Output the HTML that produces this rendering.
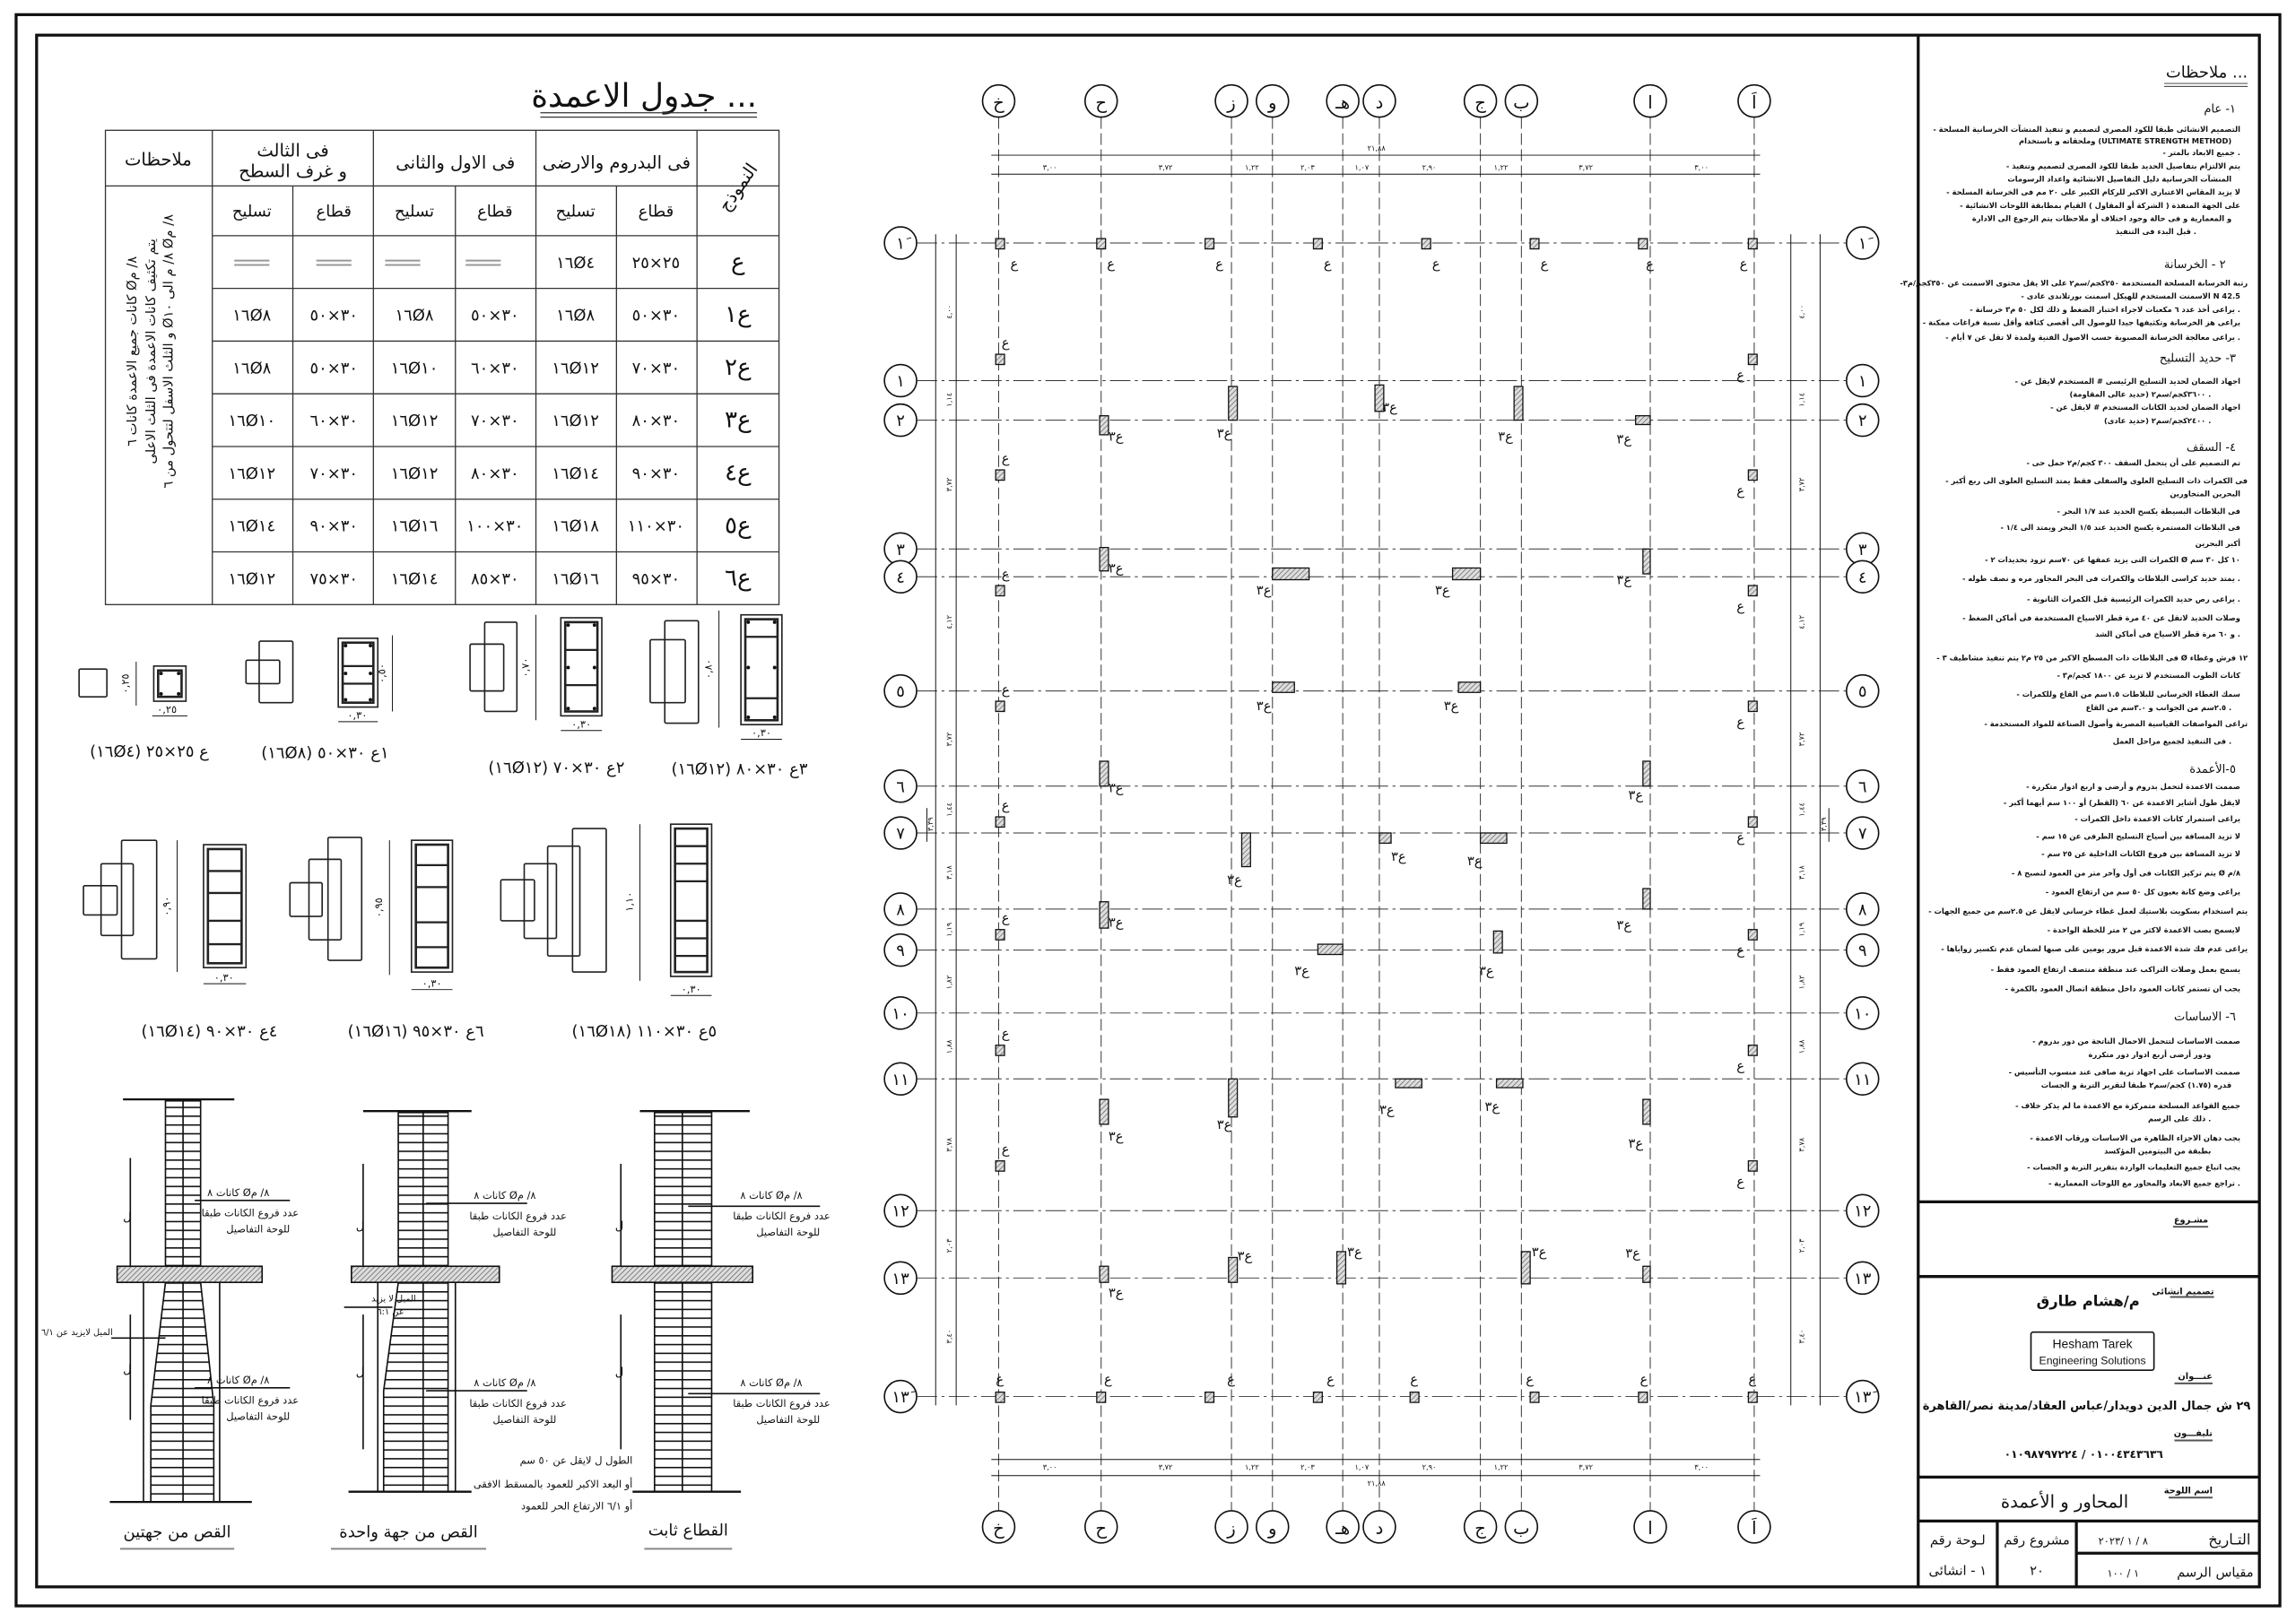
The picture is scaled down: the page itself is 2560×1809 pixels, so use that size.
<!DOCTYPE html>
<html><head><meta charset="utf-8"><style>
html,body{margin:0;padding:0;background:#fff}
svg{display:block}
text{font-family:"DejaVu Sans","Liberation Sans",sans-serif;fill:#111}
.n{font-size:5.1px;font-weight:bold;text-anchor:end}
.h{font-size:9px;text-anchor:end}
.t{font-size:11px;text-anchor:middle}
.o{unicode-bidi:bidi-override;direction:ltr}
.g{fill:none;stroke:#333;stroke-width:0.6}
.b{fill:#fff;stroke:#111;stroke-width:1}
.c{fill:url(#hat);stroke:#111;stroke-width:0.8}
.d{font-size:5px;text-anchor:middle}
.dl{stroke:#111;stroke-width:0.6}
</style></head><body>
<svg width="2560" height="1809" viewBox="0 0 1568 1108" xmlns="http://www.w3.org/2000/svg">
<defs>
<pattern id="hat" width="2.5" height="2.5" patternUnits="userSpaceOnUse" patternTransform="rotate(45)"><rect width="2.5" height="2.5" fill="#ddd"/><line x1="0" y1="0" x2="0" y2="2.5" stroke="#555" stroke-width="0.8"/></pattern>
<pattern id="st" width="10" height="6" patternUnits="userSpaceOnUse"><rect width="10" height="6" fill="#fff"/><line x1="0" y1="0.5" x2="10" y2="0.5" stroke="#111" stroke-width="1"/></pattern>
</defs>
<rect width="1568" height="1108" fill="#fff"/>
<rect x="11" y="10" width="1546" height="1087" fill="none" stroke="#111" stroke-width="2"/>
<rect x="25" y="24" width="1518" height="1060" fill="none" stroke="#111" stroke-width="2"/>
<line x1="1310" y1="24" x2="1310" y2="1084" stroke="#111" stroke-width="2"/>
<g stroke="#111" stroke-width="2">
<line x1="1310" y1="821" x2="1543" y2="821"/>
<line x1="1310" y1="872" x2="1543" y2="872"/>
<line x1="1310" y1="1009" x2="1543" y2="1009"/>
<line x1="1310" y1="1039" x2="1543" y2="1039"/>
<line x1="1418" y1="1061" x2="1543" y2="1061"/>
<line x1="1364" y1="1039" x2="1364" y2="1084"/>
<line x1="1418" y1="1039" x2="1418" y2="1084"/>
</g>

<!-- Column table -->
<text x="517" y="73" style="font-size:22px;text-anchor:end">جدول الاعمدة ...</text>
<line x1="369" y1="77" x2="517" y2="77" stroke="#333" stroke-width="0.8"/>
<line x1="369" y1="80" x2="517" y2="80" stroke="#333" stroke-width="0.8"/>
<g stroke="#333" stroke-width="0.8" fill="none">
<rect x="72" y="89" width="460" height="324"/>
<line x1="72" y1="127" x2="532" y2="127"/>
<line x1="145" y1="161" x2="532" y2="161"/>
<line x1="145" y1="197" x2="532" y2="197"/><line x1="145" y1="233" x2="532" y2="233"/>
<line x1="145" y1="269" x2="532" y2="269"/><line x1="145" y1="305" x2="532" y2="305"/>
<line x1="145" y1="341" x2="532" y2="341"/><line x1="145" y1="377" x2="532" y2="377"/>
<line x1="145" y1="89" x2="145" y2="413"/><line x1="255" y1="89" x2="255" y2="413"/>
<line x1="366" y1="89" x2="366" y2="413"/><line x1="476" y1="89" x2="476" y2="413"/>
<line x1="200" y1="127" x2="200" y2="413"/><line x1="311" y1="127" x2="311" y2="413"/>
<line x1="421" y1="127" x2="421" y2="413"/>
</g>
<text x="108" y="113" class="t" style="font-size:12px">ملاحظات</text>
<text x="200" y="107" class="t" style="font-size:12px">فى الثالث</text>
<text x="200" y="121" class="t" style="font-size:12px">و غرف السطح</text>
<text x="311" y="115" class="t" style="font-size:12px">فى الاول والثانى</text>
<text x="421" y="115" class="t" style="font-size:12px">فى البدروم والارضى</text>
<text x="504" y="132" class="t" style="font-size:12px" transform="rotate(-55 504 128)">النموذج</text>
<text x="172" y="148" class="t">تسليح</text><text x="228" y="148" class="t">قطاع</text>
<text x="283" y="148" class="t">تسليح</text><text x="338" y="148" class="t">قطاع</text>
<text x="393" y="148" class="t">تسليح</text><text x="448" y="148" class="t">قطاع</text>
<g stroke="#999" stroke-width="1.2">
<line x1="160" y1="178" x2="184" y2="178"/><line x1="160" y1="181" x2="184" y2="181"/>
<line x1="216" y1="178" x2="240" y2="178"/><line x1="216" y1="181" x2="240" y2="181"/>
<line x1="263" y1="178" x2="287" y2="178"/><line x1="263" y1="181" x2="287" y2="181"/>
<line x1="318" y1="178" x2="342" y2="178"/><line x1="318" y1="181" x2="342" y2="181"/>
</g>
<g class="o">
<text x="393" y="183" class="t o">١٦Ø٤</text><text x="448" y="183" class="t o">٢٥×٢٥</text>
<text x="172" y="219" class="t o">١٦Ø٨</text><text x="228" y="219" class="t o">٥٠×٣٠</text><text x="283" y="219" class="t o">١٦Ø٨</text><text x="338" y="219" class="t o">٥٠×٣٠</text><text x="393" y="219" class="t o">١٦Ø٨</text><text x="448" y="219" class="t o">٥٠×٣٠</text>
<text x="172" y="255" class="t o">١٦Ø٨</text><text x="228" y="255" class="t o">٥٠×٣٠</text><text x="283" y="255" class="t o">١٦Ø١٠</text><text x="338" y="255" class="t o">٦٠×٣٠</text><text x="393" y="255" class="t o">١٦Ø١٢</text><text x="448" y="255" class="t o">٧٠×٣٠</text>
<text x="172" y="291" class="t o">١٦Ø١٠</text><text x="228" y="291" class="t o">٦٠×٣٠</text><text x="283" y="291" class="t o">١٦Ø١٢</text><text x="338" y="291" class="t o">٧٠×٣٠</text><text x="393" y="291" class="t o">١٦Ø١٢</text><text x="448" y="291" class="t o">٨٠×٣٠</text>
<text x="172" y="327" class="t o">١٦Ø١٢</text><text x="228" y="327" class="t o">٧٠×٣٠</text><text x="283" y="327" class="t o">١٦Ø١٢</text><text x="338" y="327" class="t o">٨٠×٣٠</text><text x="393" y="327" class="t o">١٦Ø١٤</text><text x="448" y="327" class="t o">٩٠×٣٠</text>
<text x="172" y="363" class="t o">١٦Ø١٤</text><text x="228" y="363" class="t o">٩٠×٣٠</text><text x="283" y="363" class="t o">١٦Ø١٦</text><text x="338" y="363" class="t o">١٠٠×٣٠</text><text x="393" y="363" class="t o">١٦Ø١٨</text><text x="448" y="363" class="t o">١١٠×٣٠</text>
<text x="172" y="399" class="t o">١٦Ø١٢</text><text x="228" y="399" class="t o">٧٥×٣٠</text><text x="283" y="399" class="t o">١٦Ø١٤</text><text x="338" y="399" class="t o">٨٥×٣٠</text><text x="393" y="399" class="t o">١٦Ø١٦</text><text x="448" y="399" class="t o">٩٥×٣٠</text>
</g>
<text x="504" y="184" class="t" style="font-size:16px">ع</text>
<text x="504" y="220" class="t" style="font-size:16px">ع١</text>
<text x="504" y="256" class="t" style="font-size:16px">ع٢</text>
<text x="504" y="292" class="t" style="font-size:16px">ع٣</text>
<text x="504" y="328" class="t" style="font-size:16px">ع٤</text>
<text x="504" y="364" class="t" style="font-size:16px">ع٥</text>
<text x="504" y="400" class="t" style="font-size:16px">ع٦</text>
<text transform="translate(93 240) rotate(-90)" style="font-size:9px;text-anchor:middle">كانات جميع الاعمدة  كانات ٦ Ø٨/ م</text>
<text transform="translate(106 240) rotate(-90)" style="font-size:9px;text-anchor:middle">يتم تكثيف كانات الاعمدة فى الثلث الاعلى</text>
<text transform="translate(118 240) rotate(-90)" style="font-size:9px;text-anchor:middle">و الثلث الاسفل لتتحول من ٦ Ø٨/ م الى ١٠ Ø٨/ م</text>

<!-- Cross sections -->
<g fill="none" stroke="#222" stroke-width="1">
<rect x="54" y="457" width="19" height="19" rx="1"/>
<rect x="105" y="455" width="22" height="24"/><rect x="108" y="458" width="16" height="18" stroke-width="1.6"/>
<rect x="168" y="451" width="23" height="16" rx="1"/><rect x="177" y="438" width="23" height="42" rx="1"/>
<rect x="231" y="436" width="27" height="47"/><rect x="234" y="439" width="21" height="41" stroke-width="1.6"/>
<line x1="234" y1="455" x2="255" y2="455" stroke-width="1.4"/><line x1="234" y1="467" x2="255" y2="467" stroke-width="1.4"/>
<rect x="321" y="440" width="23" height="32" rx="1"/><rect x="331" y="425" width="22" height="61" rx="1"/>
<rect x="383" y="422" width="28" height="67"/><rect x="386" y="425" width="22" height="61" stroke-width="1.6"/>
<line x1="386" y1="444" x2="408" y2="444" stroke-width="1.4"/><line x1="386" y1="468" x2="408" y2="468" stroke-width="1.4"/>
<rect x="444" y="437" width="24" height="43" rx="1"/><rect x="454" y="424" width="23" height="70" rx="1"/>
<rect x="506" y="420" width="28" height="75"/><rect x="509" y="423" width="22" height="69" stroke-width="1.6"/>
<line x1="509" y1="435" x2="531" y2="435" stroke-width="1.4"/><line x1="509" y1="477" x2="531" y2="477" stroke-width="1.4"/>
<rect x="57" y="605" width="23" height="20" rx="1"/><rect x="69" y="590" width="22" height="49" rx="1"/><rect x="83" y="574" width="24" height="81" rx="1"/>
<rect x="139" y="577" width="29" height="84"/><rect x="142" y="580" width="23" height="78" stroke-width="1.6"/>
<line x1="142" y1="595" x2="165" y2="595" stroke-width="1.4"/><line x1="142" y1="610" x2="165" y2="610" stroke-width="1.4"/><line x1="142" y1="629" x2="165" y2="629" stroke-width="1.4"/><line x1="142" y1="645" x2="165" y2="645" stroke-width="1.4"/>
<rect x="198" y="603" width="22" height="23" rx="1"/><rect x="211" y="587" width="22" height="55" rx="1"/><rect x="224" y="572" width="23" height="84" rx="1"/>
<rect x="281" y="574" width="28" height="90"/><rect x="284" y="577" width="22" height="84" stroke-width="1.6"/>
<line x1="284" y1="591" x2="306" y2="591" stroke-width="1.4"/><line x1="284" y1="606" x2="306" y2="606" stroke-width="1.4"/><line x1="284" y1="630" x2="306" y2="630" stroke-width="1.4"/><line x1="284" y1="647" x2="306" y2="647" stroke-width="1.4"/>
<rect x="342" y="601" width="23" height="28" rx="1"/><rect x="358" y="590" width="22" height="51" rx="1"/><rect x="374" y="578" width="22" height="75" rx="1"/><rect x="391" y="566" width="23" height="98" rx="1"/>
<rect x="458" y="563" width="28" height="104"/><rect x="461" y="566" width="22" height="98" stroke-width="1.6"/>
<line x1="461" y1="578" x2="483" y2="578" stroke-width="1.4"/><line x1="461" y1="590" x2="483" y2="590" stroke-width="1.4"/><line x1="461" y1="602" x2="483" y2="602" stroke-width="1.4"/><line x1="461" y1="629" x2="483" y2="629" stroke-width="1.4"/><line x1="461" y1="641" x2="483" y2="641" stroke-width="1.4"/><line x1="461" y1="653" x2="483" y2="653" stroke-width="1.4"/>
</g>
<g fill="#111">
<circle cx="110" cy="460" r="1.2"/><circle cx="122" cy="460" r="1.2"/><circle cx="110" cy="474" r="1.2"/><circle cx="122" cy="474" r="1.2"/>
<circle cx="236" cy="441" r="1.2"/><circle cx="253" cy="441" r="1.2"/><circle cx="236" cy="478" r="1.2"/><circle cx="253" cy="478" r="1.2"/><circle cx="236" cy="460" r="1.2"/><circle cx="253" cy="460" r="1.2"/>
<circle cx="388" cy="427" r="1.2"/><circle cx="406" cy="427" r="1.2"/><circle cx="388" cy="484" r="1.2"/><circle cx="406" cy="484" r="1.2"/><circle cx="388" cy="456" r="1.2"/><circle cx="406" cy="456" r="1.2"/>
<circle cx="511" cy="425" r="1.2"/><circle cx="529" cy="425" r="1.2"/><circle cx="511" cy="490" r="1.2"/><circle cx="529" cy="490" r="1.2"/><circle cx="511" cy="456" r="1.2"/><circle cx="529" cy="456" r="1.2"/>
</g>
<g class="dl">
<line x1="93" y1="452" x2="93" y2="482"/><line x1="104" y1="489" x2="128" y2="489"/>
<line x1="268" y1="434" x2="268" y2="486"/><line x1="231" y1="493" x2="258" y2="493"/>
<line x1="366" y1="420" x2="366" y2="492"/><line x1="383" y1="499" x2="411" y2="499"/>
<line x1="491" y1="417" x2="491" y2="497"/><line x1="506" y1="505" x2="534" y2="505"/>
<line x1="121" y1="574" x2="121" y2="664"/><line x1="139" y1="672" x2="168" y2="672"/>
<line x1="266" y1="574" x2="266" y2="666"/><line x1="281" y1="676" x2="309" y2="676"/>
<line x1="437" y1="563" x2="437" y2="670"/><line x1="458" y1="680" x2="486" y2="680"/>
</g>
<text x="114" y="487" style="font-size:7px;text-anchor:middle">٠,٢٥</text>
<text x="244" y="491" style="font-size:7px;text-anchor:middle">٠,٣٠</text>
<text x="397" y="497" style="font-size:7px;text-anchor:middle">٠,٣٠</text>
<text x="520" y="503" style="font-size:7px;text-anchor:middle">٠,٣٠</text>
<text x="153" y="670" style="font-size:7px;text-anchor:middle">٠,٣٠</text>
<text x="295" y="674" style="font-size:7px;text-anchor:middle">٠,٣٠</text>
<text x="472" y="678" style="font-size:7px;text-anchor:middle">٠,٣٠</text>
<text transform="translate(88 467) rotate(-90)" style="font-size:7px;text-anchor:middle">٠,٢٥</text>
<text transform="translate(263 460) rotate(-90)" style="font-size:7px;text-anchor:middle">٠,٥٠</text>
<text transform="translate(361 456) rotate(-90)" style="font-size:7px;text-anchor:middle">٠,٧٠</text>
<text transform="translate(486 457) rotate(-90)" style="font-size:7px;text-anchor:middle">٠,٨٠</text>
<text transform="translate(116 619) rotate(-90)" style="font-size:7px;text-anchor:middle">٠,٩٠</text>
<text transform="translate(261 620) rotate(-90)" style="font-size:7px;text-anchor:middle">٠,٩٥</text>
<text transform="translate(432 616) rotate(-90)" style="font-size:7px;text-anchor:middle">١,١٠</text>
<text x="102" y="517" class="t o">(١٦Ø٤) ٢٥×٢٥ ع</text>
<text x="222" y="518" class="t o">(١٦Ø٨) ٥٠×٣٠ ع١</text>
<text x="380" y="528" class="t o">(١٦Ø١٢) ٧٠×٣٠ ع٢</text>
<text x="505" y="529" class="t o">(١٦Ø١٢) ٨٠×٣٠ ع٣</text>
<text x="143" y="708" class="t o">(١٦Ø١٤) ٩٠×٣٠ ع٤</text>
<text x="284" y="708" class="t o">(١٦Ø١٦) ٩٥×٣٠ ع٦</text>
<text x="440" y="708" class="t o">(١٦Ø١٨) ١١٠×٣٠ ع٥</text>

<!-- Elevations -->
<g stroke="#111" stroke-width="1" fill="none">
<rect x="113" y="752" width="24" height="113" fill="url(#st)" stroke="#111"/>
<polygon points="113,876 137,876 146,960 146,1026 103,1026 103,960" fill="url(#st)" stroke="#111"/>
<line x1="125" y1="752" x2="125" y2="1026"/>
<line x1="84" y1="751" x2="160" y2="751" stroke-width="1.4"/>
<line x1="75" y1="1026" x2="172" y2="1026" stroke-width="1.4"/>
<line x1="98" y1="876" x2="98" y2="1026"/><line x1="150" y1="876" x2="150" y2="1026"/>
<rect x="80" y="865" width="99" height="11" fill="url(#hat)"/>
<line x1="89" y1="791" x2="89" y2="865"/><line x1="89" y1="898" x2="89" y2="970"/>
<line x1="133" y1="820" x2="198" y2="820"/><line x1="133" y1="948" x2="198" y2="948"/>
<line x1="76" y1="914" x2="113" y2="914"/>
<rect x="272" y="760" width="34" height="105" fill="url(#st)" stroke="#111"/>
<polygon points="272,876 306,876 306,1019 262,1019 262,950" fill="url(#st)" stroke="#111"/>
<line x1="289" y1="760" x2="289" y2="1019"/>
<line x1="248" y1="759" x2="322" y2="759" stroke-width="1.4"/>
<line x1="238" y1="1019" x2="322" y2="1019" stroke-width="1.4"/>
<line x1="258" y1="876" x2="258" y2="1019"/><line x1="311" y1="876" x2="311" y2="1019"/>
<rect x="240" y="865" width="101" height="11" fill="url(#hat)"/>
<line x1="248" y1="795" x2="248" y2="865"/><line x1="248" y1="898" x2="248" y2="990"/>
<line x1="291" y1="822" x2="360" y2="822"/><line x1="291" y1="950" x2="360" y2="950"/>
<line x1="235" y1="893" x2="268" y2="893"/>
<rect x="447" y="760" width="39" height="259" fill="url(#st)" stroke="#111"/>
<line x1="466" y1="760" x2="466" y2="1019"/>
<line x1="437" y1="759" x2="512" y2="759" stroke-width="1.4"/>
<line x1="432" y1="1019" x2="506" y2="1019" stroke-width="1.4"/>
<rect x="418" y="865" width="96" height="11" fill="url(#hat)"/>
<line x1="424" y1="795" x2="424" y2="865"/><line x1="424" y1="898" x2="424" y2="990"/>
<line x1="470" y1="824" x2="560" y2="824"/><line x1="470" y1="952" x2="560" y2="952"/>
</g>
<text x="84" y="834" style="font-size:8px">ل</text><text x="84" y="938" style="font-size:8px">ل</text>
<text x="243" y="840" style="font-size:8px">ل</text><text x="243" y="940" style="font-size:8px">ل</text>
<text x="420" y="840" style="font-size:8px">ل</text><text x="420" y="940" style="font-size:8px">ل</text>
<text x="184" y="817" class="h" style="font-size:7px">كانات ٨ Ø٨/ م</text>
<text x="204" y="831" class="h" style="font-size:7px">عدد فروع الكانات طبقا</text>
<text x="198" y="842" class="h" style="font-size:7px">للوحة التفاصيل</text>
<text x="184" y="945" class="h" style="font-size:7px">كانات ٨ Ø٨/ م</text>
<text x="204" y="959" class="h" style="font-size:7px">عدد فروع الكانات طبقا</text>
<text x="198" y="970" class="h" style="font-size:7px">للوحة التفاصيل</text>
<text x="77" y="912" class="h" style="font-size:6px">الميل لايزيد عن ٦/١</text>
<text x="366" y="819" class="h" style="font-size:7px">كانات ٨ Ø٨/ م</text>
<text x="387" y="833" class="h" style="font-size:7px">عدد فروع الكانات طبقا</text>
<text x="380" y="844" class="h" style="font-size:7px">للوحة التفاصيل</text>
<text x="366" y="947" class="h" style="font-size:7px">كانات ٨ Ø٨/ م</text>
<text x="387" y="961" class="h" style="font-size:7px">عدد فروع الكانات طبقا</text>
<text x="380" y="972" class="h" style="font-size:7px">للوحة التفاصيل</text>
<text x="284" y="889" class="h" style="font-size:6px">الميل لا يزيد</text>
<text x="276" y="898" class="h" style="font-size:6px">عن ٦:١</text>
<text x="548" y="819" class="h" style="font-size:7px">كانات ٨ Ø٨/ م</text>
<text x="567" y="833" class="h" style="font-size:7px">عدد فروع الكانات طبقا</text>
<text x="560" y="844" class="h" style="font-size:7px">للوحة التفاصيل</text>
<text x="548" y="947" class="h" style="font-size:7px">كانات ٨ Ø٨/ م</text>
<text x="567" y="961" class="h" style="font-size:7px">عدد فروع الكانات طبقا</text>
<text x="560" y="972" class="h" style="font-size:7px">للوحة التفاصيل</text>
<text x="432" y="1000" class="h" style="font-size:7px">الطول ل لايقل عن  ٥٠ سم</text>
<text x="432" y="1016" class="h" style="font-size:7px">أو البعد الاكبر للعمود بالمسقط الافقى</text>
<text x="432" y="1031" class="h" style="font-size:7px">أو ٦/١ الارتفاع الحر للعمود</text>
<text x="121" y="1050" class="t">القص من جهتين</text>
<text x="279" y="1050" class="t">القص من جهة واحدة</text>
<text x="470" y="1049" class="t">القطاع ثابت</text>
<g stroke="#888" stroke-width="1.2">
<line x1="82" y1="1058" x2="160" y2="1058"/><line x1="226" y1="1058" x2="332" y2="1058"/><line x1="440" y1="1058" x2="500" y2="1058"/>
</g>

<!-- PLAN grid -->
<g class="g" stroke-dasharray="8 3">
<line x1="682" y1="80" x2="682" y2="1032"/><line x1="752" y1="80" x2="752" y2="1032"/>
<line x1="841" y1="80" x2="841" y2="1032"/><line x1="869" y1="80" x2="869" y2="1032"/>
<line x1="917" y1="80" x2="917" y2="1032"/><line x1="942" y1="80" x2="942" y2="1032"/>
<line x1="1011" y1="80" x2="1011" y2="1032"/><line x1="1039" y1="80" x2="1039" y2="1032"/>
<line x1="1127" y1="80" x2="1127" y2="1032"/><line x1="1198" y1="80" x2="1198" y2="1032"/>
</g>
<g class="g" stroke-dasharray="14 3 2 3" stroke-width="0.8">
<line x1="626" y1="166" x2="1261" y2="166"/><line x1="626" y1="260" x2="1261" y2="260"/>
<line x1="626" y1="287" x2="1261" y2="287"/><line x1="626" y1="375" x2="1261" y2="375"/>
<line x1="626" y1="394" x2="1261" y2="394"/><line x1="626" y1="472" x2="1261" y2="472"/>
<line x1="626" y1="537" x2="1261" y2="537"/><line x1="626" y1="569" x2="1261" y2="569"/>
<line x1="626" y1="621" x2="1261" y2="621"/><line x1="626" y1="649" x2="1261" y2="649"/>
<line x1="626" y1="692" x2="1261" y2="692"/><line x1="626" y1="737" x2="1261" y2="737"/>
<line x1="626" y1="827" x2="1261" y2="827"/><line x1="626" y1="873" x2="1261" y2="873"/>
<line x1="626" y1="954" x2="1261" y2="954"/>
</g>
<g class="dl">
<line x1="677" y1="106" x2="1202" y2="106"/><line x1="677" y1="119" x2="1202" y2="119"/>
<line x1="677" y1="997" x2="1202" y2="997"/><line x1="677" y1="1008" x2="1202" y2="1008"/>
<line x1="639" y1="160" x2="639" y2="960"/><line x1="653" y1="160" x2="653" y2="960"/>
<line x1="1223" y1="160" x2="1223" y2="960"/><line x1="1243" y1="160" x2="1243" y2="960"/>
<line x1="633" y1="552" x2="633" y2="575"/><line x1="1249" y1="552" x2="1249" y2="575"/>
</g>
<g>
<text x="940" y="103" class="d">٢١,٨٨</text><text x="940" y="1015" class="d">٢١,٨٨</text>
<text x="717" y="116" class="d">٣,٠٠</text><text x="796" y="116" class="d">٣,٧٢</text><text x="855" y="116" class="d">١,٢٢</text><text x="893" y="116" class="d">٢,٠٣</text><text x="930" y="116" class="d">١,٠٧</text><text x="976" y="116" class="d">٢,٩٠</text><text x="1025" y="116" class="d">١,٢٢</text><text x="1083" y="116" class="d">٣,٧٢</text><text x="1162" y="116" class="d">٣,٠٠</text>
<text x="717" y="1004" class="d">٣,٠٠</text><text x="796" y="1004" class="d">٣,٧٢</text><text x="855" y="1004" class="d">١,٢٢</text><text x="893" y="1004" class="d">٢,٠٣</text><text x="930" y="1004" class="d">١,٠٧</text><text x="976" y="1004" class="d">٢,٩٠</text><text x="1025" y="1004" class="d">١,٢٢</text><text x="1083" y="1004" class="d">٣,٧٢</text><text x="1162" y="1004" class="d">٣,٠٠</text>
<text transform="translate(650 213) rotate(-90)" class="d">٤,٠٠</text><text transform="translate(1232 213) rotate(-90)" class="d">٤,٠٠</text>
<text transform="translate(650 273) rotate(-90)" class="d">١,١٤</text><text transform="translate(1232 273) rotate(-90)" class="d">١,١٤</text>
<text transform="translate(650 331) rotate(-90)" class="d">٣,٧٢</text><text transform="translate(1232 331) rotate(-90)" class="d">٣,٧٢</text>
<text transform="translate(650 425) rotate(-90)" class="d">٤,١٢</text><text transform="translate(1232 425) rotate(-90)" class="d">٤,١٢</text>
<text transform="translate(650 505) rotate(-90)" class="d">٣,٧٢</text><text transform="translate(1232 505) rotate(-90)" class="d">٣,٧٢</text>
<text transform="translate(650 553) rotate(-90)" class="d">١,٤٤</text><text transform="translate(1232 553) rotate(-90)" class="d">١,٤٤</text>
<text transform="translate(637 563) rotate(-90)" class="d">٣,٣٩</text><text transform="translate(1247 563) rotate(-90)" class="d">٣,٣٩</text>
<text transform="translate(650 596) rotate(-90)" class="d">٣,١٨</text><text transform="translate(1232 596) rotate(-90)" class="d">٣,١٨</text>
<text transform="translate(650 635) rotate(-90)" class="d">١,١٩</text><text transform="translate(1232 635) rotate(-90)" class="d">١,١٩</text>
<text transform="translate(650 671) rotate(-90)" class="d">١,٨٢</text><text transform="translate(1232 671) rotate(-90)" class="d">١,٨٢</text>
<text transform="translate(650 715) rotate(-90)" class="d">١,٨٨</text><text transform="translate(1232 715) rotate(-90)" class="d">١,٨٨</text>
<text transform="translate(650 782) rotate(-90)" class="d">٣,٧٨</text><text transform="translate(1232 782) rotate(-90)" class="d">٣,٧٨</text>
<text transform="translate(650 851) rotate(-90)" class="d">٢,٠٣</text><text transform="translate(1232 851) rotate(-90)" class="d">٢,٠٣</text>
<text transform="translate(650 913) rotate(-90)" class="d">٣,٤٠</text><text transform="translate(1232 913) rotate(-90)" class="d">٣,٤٠</text>
</g>
<g class="b">
<circle cx="682" cy="69" r="11"/><circle cx="752" cy="69" r="11"/><circle cx="841" cy="69" r="11"/><circle cx="869" cy="69" r="11"/><circle cx="917" cy="69" r="11"/><circle cx="942" cy="69" r="11"/><circle cx="1011" cy="69" r="11"/><circle cx="1039" cy="69" r="11"/><circle cx="1127" cy="69" r="11"/><circle cx="1198" cy="69" r="11"/>
<circle cx="682" cy="1043" r="11"/><circle cx="752" cy="1043" r="11"/><circle cx="841" cy="1043" r="11"/><circle cx="869" cy="1043" r="11"/><circle cx="917" cy="1043" r="11"/><circle cx="942" cy="1043" r="11"/><circle cx="1011" cy="1043" r="11"/><circle cx="1039" cy="1043" r="11"/><circle cx="1127" cy="1043" r="11"/><circle cx="1198" cy="1043" r="11"/>
</g>
<g>
<text x="682" y="74" class="t" style="font-size:12px">خ</text><text x="752" y="74" class="t" style="font-size:12px">ح</text><text x="841" y="74" class="t" style="font-size:12px">ز</text><text x="869" y="74" class="t" style="font-size:12px">و</text><text x="917" y="74" class="t" style="font-size:12px">هـ</text><text x="942" y="74" class="t" style="font-size:12px">د</text><text x="1011" y="74" class="t" style="font-size:12px">ج</text><text x="1039" y="74" class="t" style="font-size:12px">ب</text><text x="1127" y="74" class="t" style="font-size:12px">ا</text><text x="1198" y="74" class="t" style="font-size:12px">اَ</text>
<text x="682" y="1048" class="t" style="font-size:12px">خ</text><text x="752" y="1048" class="t" style="font-size:12px">ح</text><text x="841" y="1048" class="t" style="font-size:12px">ز</text><text x="869" y="1048" class="t" style="font-size:12px">و</text><text x="917" y="1048" class="t" style="font-size:12px">هـ</text><text x="942" y="1048" class="t" style="font-size:12px">د</text><text x="1011" y="1048" class="t" style="font-size:12px">ج</text><text x="1039" y="1048" class="t" style="font-size:12px">ب</text><text x="1127" y="1048" class="t" style="font-size:12px">ا</text><text x="1198" y="1048" class="t" style="font-size:12px">اَ</text>
</g>
<g class="b">
<circle cx="615" cy="166" r="11"/><circle cx="615" cy="260" r="11"/><circle cx="615" cy="287" r="11"/><circle cx="615" cy="375" r="11"/><circle cx="615" cy="394" r="11"/><circle cx="615" cy="472" r="11"/><circle cx="615" cy="537" r="11"/><circle cx="615" cy="569" r="11"/><circle cx="615" cy="621" r="11"/><circle cx="615" cy="649" r="11"/><circle cx="615" cy="692" r="11"/><circle cx="615" cy="737" r="11"/><circle cx="615" cy="827" r="11"/><circle cx="615" cy="873" r="11"/><circle cx="615" cy="954" r="11"/>
<circle cx="1272" cy="166" r="11"/><circle cx="1272" cy="260" r="11"/><circle cx="1272" cy="287" r="11"/><circle cx="1272" cy="375" r="11"/><circle cx="1272" cy="394" r="11"/><circle cx="1272" cy="472" r="11"/><circle cx="1272" cy="537" r="11"/><circle cx="1272" cy="569" r="11"/><circle cx="1272" cy="621" r="11"/><circle cx="1272" cy="649" r="11"/><circle cx="1272" cy="692" r="11"/><circle cx="1272" cy="737" r="11"/><circle cx="1272" cy="827" r="11"/><circle cx="1272" cy="873" r="11"/><circle cx="1272" cy="954" r="11"/>
</g>
<g>
<text x="615" y="170" class="t">١َ</text><text x="615" y="264" class="t">١</text><text x="615" y="291" class="t">٢</text><text x="615" y="379" class="t">٣</text><text x="615" y="398" class="t">٤</text><text x="615" y="476" class="t">٥</text><text x="615" y="541" class="t">٦</text><text x="615" y="573" class="t">٧</text><text x="615" y="625" class="t">٨</text><text x="615" y="653" class="t">٩</text><text x="615" y="696" class="t o">١٠</text><text x="615" y="741" class="t o">١١</text><text x="615" y="831" class="t o">١٢</text><text x="615" y="877" class="t o">١٣</text><text x="615" y="958" class="t">١٣َ</text>
<text x="1272" y="170" class="t">١َ</text><text x="1272" y="264" class="t">١</text><text x="1272" y="291" class="t">٢</text><text x="1272" y="379" class="t">٣</text><text x="1272" y="398" class="t">٤</text><text x="1272" y="476" class="t">٥</text><text x="1272" y="541" class="t">٦</text><text x="1272" y="573" class="t">٧</text><text x="1272" y="625" class="t">٨</text><text x="1272" y="653" class="t">٩</text><text x="1272" y="696" class="t o">١٠</text><text x="1272" y="741" class="t o">١١</text><text x="1272" y="831" class="t o">١٢</text><text x="1272" y="877" class="t o">١٣</text><text x="1272" y="958" class="t">١٣َ</text>
</g>
<g class="c">
<rect x="680" y="163" width="6" height="7"/><rect x="749" y="163" width="6" height="7"/><rect x="823" y="163" width="6" height="7"/><rect x="897" y="163" width="6" height="7"/><rect x="971" y="163" width="6" height="7"/><rect x="1045" y="163" width="6" height="7"/><rect x="1119" y="163" width="6" height="7"/><rect x="1194" y="163" width="6" height="7"/>
<rect x="680" y="951" width="6" height="7"/><rect x="749" y="951" width="6" height="7"/><rect x="823" y="951" width="6" height="7"/><rect x="897" y="951" width="6" height="7"/><rect x="963" y="951" width="6" height="7"/><rect x="1045" y="951" width="6" height="7"/><rect x="1119" y="951" width="6" height="7"/><rect x="1194" y="951" width="6" height="7"/>
<rect x="680" y="242" width="6" height="7"/><rect x="680" y="321" width="6" height="7"/><rect x="680" y="400" width="6" height="7"/><rect x="680" y="479" width="6" height="7"/><rect x="680" y="558" width="6" height="7"/><rect x="680" y="635" width="6" height="7"/><rect x="680" y="714" width="6" height="7"/><rect x="680" y="793" width="6" height="7"/>
<rect x="1194" y="242" width="6" height="7"/><rect x="1194" y="321" width="6" height="7"/><rect x="1194" y="400" width="6" height="7"/><rect x="1194" y="479" width="6" height="7"/><rect x="1194" y="558" width="6" height="7"/><rect x="1194" y="635" width="6" height="7"/><rect x="1194" y="714" width="6" height="7"/><rect x="1194" y="793" width="6" height="7"/>
<rect x="751" y="284" width="6" height="13"/><rect x="839" y="264" width="6" height="23"/><rect x="939" y="263" width="6" height="18"/><rect x="1034" y="264" width="6" height="23"/><rect x="1117" y="284" width="10" height="6"/>
<rect x="751" y="374" width="6" height="16"/><rect x="869" y="388" width="25" height="8"/><rect x="992" y="388" width="19" height="8"/><rect x="1122" y="375" width="5" height="17"/>
<rect x="869" y="466" width="15" height="7"/><rect x="996" y="466" width="15" height="7"/>
<rect x="751" y="520" width="6" height="17"/><rect x="1122" y="520" width="5" height="17"/>
<rect x="848" y="569" width="6" height="23"/><rect x="942" y="569" width="8" height="7"/><rect x="1011" y="569" width="18" height="7"/>
<rect x="751" y="616" width="6" height="18"/><rect x="1122" y="607" width="5" height="14"/>
<rect x="900" y="645" width="17" height="7"/><rect x="1020" y="636" width="6" height="15"/>
<rect x="839" y="737" width="6" height="26"/><rect x="953" y="737" width="18" height="6"/><rect x="1022" y="737" width="18" height="6"/>
<rect x="751" y="751" width="6" height="17"/><rect x="1122" y="751" width="5" height="17"/>
<rect x="751" y="865" width="6" height="11"/><rect x="839" y="859" width="6" height="17"/><rect x="913" y="855" width="6" height="22"/><rect x="1039" y="855" width="6" height="22"/><rect x="1122" y="865" width="5" height="11"/>
</g>
<g style="font-size:9px">
<text x="690" y="183">ع</text><text x="756" y="183">ع</text><text x="830" y="183">ع</text><text x="904" y="183">ع</text><text x="978" y="183">ع</text><text x="1052" y="183">ع</text><text x="1124" y="183">ع</text><text x="1188" y="183">ع</text>
<text x="684" y="237">ع</text><text x="684" y="316">ع</text><text x="684" y="395">ع</text><text x="684" y="474">ع</text><text x="684" y="553">ع</text><text x="684" y="630">ع</text><text x="684" y="709">ع</text><text x="684" y="788">ع</text>
<text x="1186" y="259">ع</text><text x="1186" y="338">ع</text><text x="1186" y="417">ع</text><text x="1186" y="496">ع</text><text x="1186" y="575">ع</text><text x="1186" y="652">ع</text><text x="1186" y="731">ع</text><text x="1186" y="810">ع</text>
<text x="680" y="945">ع</text><text x="754" y="945">ع</text><text x="838" y="945">ع</text><text x="906" y="945">ع</text><text x="963" y="945">ع</text><text x="1042" y="945">ع</text><text x="1120" y="945">ع</text><text x="1194" y="945">ع</text>
<text x="757" y="301">ع٣</text><text x="831" y="299">ع٣</text><text x="944" y="281">ع٣</text><text x="1023" y="301">ع٣</text><text x="1104" y="303">ع٣</text>
<text x="757" y="391">ع٣</text><text x="858" y="406">ع٣</text><text x="980" y="406">ع٣</text><text x="1104" y="399">ع٣</text>
<text x="858" y="485">ع٣</text><text x="986" y="485">ع٣</text>
<text x="757" y="541">ع٣</text><text x="1112" y="546">ع٣</text>
<text x="838" y="604">ع٣</text><text x="950" y="588">ع٣</text><text x="1002" y="591">ع٣</text>
<text x="757" y="633">ع٣</text><text x="1104" y="635">ع٣</text>
<text x="884" y="666">ع٣</text><text x="1010" y="666">ع٣</text>
<text x="831" y="771">ع٣</text><text x="942" y="761">ع٣</text><text x="1014" y="759">ع٣</text><text x="757" y="779">ع٣</text><text x="1112" y="784">ع٣</text>
<text x="757" y="886">ع٣</text><text x="845" y="861">ع٣</text><text x="920" y="858">ع٣</text><text x="1046" y="858">ع٣</text><text x="1110" y="859">ع٣</text>
</g>

<!-- Notes -->
<text x="1535" y="53" class="h" style="font-size:11px">ملاحظات ...</text>
<line x1="1478" y1="57" x2="1535" y2="57" stroke="#333" stroke-width="0.6"/><line x1="1478" y1="59" x2="1535" y2="59" stroke="#333" stroke-width="0.6"/>
<g>
<text x="1527" y="77" class="h" style="font-size:8px">١- عام</text>
<text x="1530" y="90" class="n">- التصميم الانشائى طبقا للكود المصرى لتصميم و تنفيذ المنشآت الخرسانية المسلحة</text>
<text x="1524" y="98" class="n">وملحقاته و باستخدام (ULTIMATE STRENGTH METHOD)</text>
<text x="1530" y="106" class="n">- جميع الابعاد بالمتر .</text>
<text x="1530" y="115" class="n">- يتم الالتزام بتفاصيل الحديد طبقا للكود المصرى لتصميم وتنفيذ</text>
<text x="1524" y="124" class="n">المنشآت الخرسانية دليل التفاصيل الانشائية واعداد الرسومات</text>
<text x="1530" y="133" class="n">- لا يزيد المقاس الاعتبارى الاكبر للركام الكبير على ٢٠ مم فى الخرسانة المسلحة</text>
<text x="1530" y="142" class="n">- على الجهة المنفذة ( الشركة أو المقاول ) القيام بمطابقة اللوحات الانشائية</text>
<text x="1524" y="151" class="n">و المعمارية و فى حالة وجود اختلاف أو ملاحظات يتم الرجوع الى الادارة</text>
<text x="1500" y="160" class="n">قبل البدء فى التنفيذ .</text>
<text x="1520" y="183" class="h" style="font-size:8px">٢ - الخرسانة</text>
<text x="1535" y="195" class="n">-رتبة الخرسانة المسلحة المستخدمة ٢٥٠كجم/سم٢ على الا يقل محتوى الاسمنت عن ٣٥٠كجم/م٣</text>
<text x="1530" y="204" class="n">- الاسمنت المستخدم للهيكل اسمنت بورتلاندى عادى N 42.5</text>
<text x="1530" y="213" class="n">- يراعى أخذ عدد ٦ مكعبات لاجراء اختبار الضغط و ذلك لكل ٥٠ م٣ خرسانة .</text>
<text x="1530" y="222" class="n">- يراعى هز الخرسانة وتكثيفها جيدا للوصول الى أقصى كثافة وأقل نسبة فراغات ممكنة</text>
<text x="1530" y="232" class="n">- يراعى معالجة الخرسانة المصبوبة حسب الاصول الفنية ولمدة لا تقل عن ٧ أيام .</text>
<text x="1527" y="247" class="h" style="font-size:8px">٣- حديد التسليح</text>
<text x="1530" y="262" class="n">- اجهاد الضمان لحديد التسليح الرئيسى # المستخدم لايقل عن</text>
<text x="1510" y="271" class="n">٣٦٠٠كجم/سم٢ (حديد عالى المقاومة) .</text>
<text x="1530" y="280" class="n">- اجهاد الضمان لحديد الكانات المستخدم # لايقل عن</text>
<text x="1510" y="289" class="n">٢٤٠٠كجم/سم٢ (حديد عادى) .</text>
<text x="1527" y="308" class="h" style="font-size:8px">٤- السقف</text>
<text x="1530" y="318" class="n">- تم التصميم على أن يتحمل السقف ٣٠٠ كجم/م٢ حمل حى</text>
<text x="1535" y="330" class="n">- فى الكمرات ذات التسليح العلوى والسفلى فقط يمتد التسليح العلوى الى ربع أكبر</text>
<text x="1530" y="339" class="n">البحرين المتجاورين</text>
<text x="1530" y="351" class="n">- فى البلاطات البسيطة يكسح الحديد عند ١/٧ البحر</text>
<text x="1530" y="362" class="n">- فى البلاطات المستمرة يكسح الحديد عند ١/٥ البحر ويمتد الى ١/٤</text>
<text x="1530" y="373" class="n">أكبر البحرين</text>
<text x="1530" y="384" class="n">- الكمرات التى يزيد عمقها عن ٧٠سم تزود بحديدات ٢ Ø ١٠ كل ٣٠ سم</text>
<text x="1530" y="397" class="n">- يمتد حديد كراسى البلاطات والكمرات فى البحر المجاور مره و نصف طوله .</text>
<text x="1530" y="411" class="n">- يراعى رص حديد الكمرات الرئيسية قبل الكمرات الثانوية .</text>
<text x="1530" y="424" class="n">- وصلات الحديد لاتقل عن ٤٠ مرة قطر الاسياخ المستخدمة فى أماكن الضغط</text>
<text x="1530" y="435" class="n">و ٦٠ مرة قطر الاسياخ فى أماكن الشد .</text>
<text x="1535" y="451" class="n">- فى البلاطات ذات المسطح الاكبر من ٢٥ م٢ يتم تنفيذ مشاطيف ٣ Ø ١٢ فرش وغطاء</text>
<text x="1530" y="463" class="n">- كانات الطوب المستخدم لا تزيد عن ١٨٠٠ كجم/م٣</text>
<text x="1530" y="476" class="n">- سمك الغطاء الخرسانى للبلاطات ١.٥سم من القاع وللكمرات</text>
<text x="1524" y="485" class="n">٢.٥سم من الجوانب و ٣.٠سم من القاع .</text>
<text x="1535" y="496" class="n">- تراعى المواصفات القياسية المصرية وأصول الصناعة للمواد المستخدمة</text>
<text x="1524" y="508" class="n">فى التنفيذ لجميع مراحل العمل .</text>
<text x="1527" y="528" class="h" style="font-size:8px">٥-الأعمدة</text>
<text x="1530" y="539" class="n">- صممت الاعمدة لتحمل بدروم و أرضى و اربع ادوار متكررة</text>
<text x="1530" y="550" class="n">- لايقل طول أشاير الاعمدة عن ٦٠ (القطر) أو ١٠٠ سم أيهما أكبر</text>
<text x="1530" y="561" class="n">- يراعى استمرار كانات الاعمدة داخل الكمرات</text>
<text x="1530" y="573" class="n">- لا تزيد المسافة بين أسياخ التسليح الطرفى عن ١٥ سم</text>
<text x="1530" y="585" class="n">- لا تزيد المسافة بين فروع الكانات الداخلية عن ٢٥ سم</text>
<text x="1530" y="598" class="n">- يتم تركيز الكانات فى أول وآخر متر من العمود لتصبح ٨ Ø ٨/م</text>
<text x="1530" y="611" class="n">- يراعى وضع كانة بعيون كل ٥٠ سم من ارتفاع العمود</text>
<text x="1535" y="624" class="n">- يتم استخدام بسكويت بلاستيك لعمل غطاء خرسانى لايقل عن ٢.٥سم من جميع الجهات</text>
<text x="1530" y="637" class="n">- لايسمح بصب الاعمدة لاكثر من ٢ متر للخطة الواحدة</text>
<text x="1535" y="650" class="n">- يراعى عدم فك شدة الاعمدة قبل مرور يومين على صبها لضمان عدم تكسير زواياها</text>
<text x="1530" y="664" class="n">- يسمح بعمل وصلات التراكب عند منطقة منتصف ارتفاع العمود فقط</text>
<text x="1530" y="677" class="n">- يجب ان تستمر كانات العمود داخل منطقة اتصال العمود بالكمرة</text>
<text x="1527" y="697" class="h" style="font-size:8px">٦- الاساسات</text>
<text x="1530" y="713" class="n">- صممت الاساسات لتتحمل الاحمال الناتجة من دور بدروم</text>
<text x="1510" y="722" class="n">ودور أرضى أربع ادوار دور متكررة</text>
<text x="1530" y="734" class="n">- صممت الاساسات على اجهاد تربة صافى عند منسوب التأسيس</text>
<text x="1524" y="743" class="n">قدره (١.٧٥) كجم/سم٢ طبقا لتقرير التربة و الجسات</text>
<text x="1530" y="757" class="n">- جميع القواعد المسلحة متمركزة مع الاعمدة ما لم يذكر خلاف</text>
<text x="1510" y="766" class="n">ذلك على الرسم .</text>
<text x="1530" y="779" class="n">- يجب دهان الاجزاء الظاهرة من الاساسات ورقاب الاعمدة</text>
<text x="1510" y="788" class="n">بطبقة من البيتومين المؤكسد</text>
<text x="1530" y="799" class="n">- يجب اتباع جميع التعليمات الواردة بتقرير التربة و الجسات</text>
<text x="1530" y="810" class="n">- تراجع جميع الابعاد والمحاور مع اللوحات المعمارية .</text>
</g>

<!-- Title block -->
<text x="1508" y="835" class="n" style="font-size:6px">مشـروع</text>
<line x1="1484" y1="838" x2="1508" y2="838" stroke="#555" stroke-width="1.2"/>
<text x="1512" y="884" class="n" style="font-size:6px">تصميم انشائى</text>
<line x1="1482" y1="886" x2="1512" y2="886" stroke="#555" stroke-width="1.2"/>
<text x="1511" y="942" class="n" style="font-size:6px">عنـــوان</text>
<line x1="1485" y1="945" x2="1511" y2="945" stroke="#555" stroke-width="1.2"/>
<text x="1511" y="981" class="n" style="font-size:6px">تليفـــون</text>
<line x1="1485" y1="984" x2="1511" y2="984" stroke="#555" stroke-width="1.2"/>
<text x="1511" y="1020" class="n" style="font-size:6px">اسم اللوحة</text>
<line x1="1481" y1="1023" x2="1511" y2="1023" stroke="#555" stroke-width="1.2"/>
<text x="1426" y="892" class="t" style="font-size:10px;font-weight:bold">م/هشام طارق</text>
<rect x="1387" y="910" width="84" height="26" rx="1.5" fill="none" stroke="#111" stroke-width="1"/>
<text x="1429" y="921" class="t" style="font-family:'Liberation Sans',sans-serif;font-size:8.5px">Hesham Tarek</text>
<text x="1429" y="932" class="t" style="font-family:'Liberation Sans',sans-serif;font-size:7.5px">Engineering Solutions</text>
<text x="1425" y="963" class="t" style="font-size:8px;font-weight:bold">٢٩ ش جمال الدين دويدار/عباس العقاد/مدينة نصر/القاهرة</text>
<text x="1423" y="996" class="t o" style="font-size:7.5px;font-weight:bold">٠١٠٩٨٧٩٧٢٢٤ / ٠١٠٠٤٣٤٣٦٣٦</text>
<text x="1410" y="1030" class="t" style="font-size:12px">المحاور و الأعمدة</text>
<text x="1537" y="1055" class="h" style="font-size:10px">التـاريخ</text>
<text x="1450" y="1055" class="t o" style="font-size:7px">٢٠٢٣/ ١ / ٨</text>
<text x="1539" y="1077" class="h" style="font-size:9px">مقياس الرسم</text>
<text x="1450" y="1077" class="t o" style="font-size:7px">١٠٠ / ١</text>
<text x="1391" y="1055" class="t" style="font-size:9px">مشروع رقم</text>
<text x="1391" y="1076" class="t o" style="font-size:9px">٢٠</text>
<text x="1337" y="1055" class="t" style="font-size:9px">لـوحة رقم</text>
<text x="1337" y="1076" class="t" style="font-size:9px">١ - انشائى</text>
</svg>
</body></html>
